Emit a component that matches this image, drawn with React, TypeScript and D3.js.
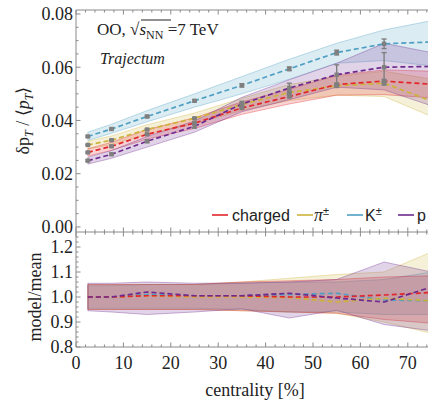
import React from "react";
import * as d3 from "d3";

const centrality = [2.5, 7.5, 15, 25, 35, 45, 55, 65, 75];

// top panel: delta pT / <pT>
const chargedMean = [0.028, 0.0303, 0.0348, 0.039, 0.0447, 0.049, 0.0535, 0.0548, 0.0536];
const chargedLo = [0.0266, 0.0288, 0.033, 0.037, 0.0423, 0.0462, 0.0495, 0.0497, 0.0485];
const chargedHi = [0.0294, 0.0318, 0.0366, 0.041, 0.047, 0.0517, 0.057, 0.059, 0.0585];
const chargedErr = [0.0002, 0.0002, 0.0002, 0.0003, 0.0003, 0.0004, 0.0005, 0.0006, 0.0007];

const pionMean = [0.0308, 0.0326, 0.0366, 0.0408, 0.046, 0.0505, 0.053, 0.054, 0.0473];
const pionLo = [0.0292, 0.031, 0.0348, 0.0388, 0.0437, 0.0475, 0.0495, 0.049, 0.0415];
const pionHi = [0.0322, 0.0342, 0.0384, 0.0428, 0.0483, 0.0535, 0.0565, 0.0585, 0.0555];
const pionErr = [0.0002, 0.0002, 0.0003, 0.0003, 0.0004, 0.0005, 0.0006, 0.0007, 0.0008];

const kaonMean = [0.034, 0.0368, 0.0415, 0.0474, 0.0532, 0.0594, 0.0655, 0.0688, 0.0695];
const kaonLo = [0.0325, 0.0352, 0.0395, 0.045, 0.05, 0.0555, 0.0615, 0.0625, 0.0605];
const kaonHi = [0.0356, 0.0386, 0.0437, 0.05, 0.0565, 0.063, 0.069, 0.074, 0.0775];
const kaonErr = [0.0003, 0.0003, 0.0004, 0.0004, 0.0006, 0.0007, 0.0009, 0.0018, 0.002];

const protonMean = [0.0249, 0.0273, 0.0322, 0.0378, 0.0462, 0.0522, 0.0572, 0.0600, 0.0603];
const protonLo = [0.0236, 0.0258, 0.03, 0.0356, 0.0433, 0.0478, 0.0525, 0.0515, 0.0455];
const protonHi = [0.0262, 0.0287, 0.034, 0.0398, 0.0487, 0.0553, 0.0615, 0.069, 0.0655];
const protonErr = [0.0003, 0.0004, 0.0005, 0.0007, 0.001, 0.0018, 0.0037, 0.0055, 0.006];

// bottom panel: model / mean
const chargedRatio = [1.0, 1.0, 1.005, 1.005, 1.005, 1.0, 1.0, 1.008, 1.018];
const chargedRatioLo = [0.95, 0.95, 0.95, 0.95, 0.945, 0.94, 0.935, 0.91, 0.895];
const chargedRatioHi = [1.05, 1.05, 1.05, 1.05, 1.06, 1.065, 1.07, 1.08, 1.085];
const pionRatio = [1.0, 1.0, 1.005, 1.0, 1.0, 0.998, 0.98, 0.995, 0.985];
const pionRatioLo = [0.95, 0.95, 0.95, 0.95, 0.945, 0.94, 0.935, 0.9, 0.855];
const pionRatioHi = [1.05, 1.05, 1.05, 1.05, 1.06, 1.075, 1.09, 1.1, 1.18];
const kaonRatio = [1.0, 1.0, 1.01, 1.005, 1.005, 1.01, 1.015, 0.988, 0.985];
const kaonRatioLo = [0.955, 0.955, 0.955, 0.955, 0.95, 0.94, 0.94, 0.93, 0.93];
const kaonRatioHi = [1.045, 1.045, 1.05, 1.05, 1.055, 1.06, 1.06, 1.07, 1.1];
const protonRatio = [1.0, 1.0, 1.02, 1.005, 1.005, 1.015, 0.996, 0.98, 1.04];
const protonRatioLo = [0.945, 0.94, 0.93, 0.94, 0.953, 0.916, 0.947, 0.89, 0.865];
const protonRatioHi = [1.055, 1.055, 1.06, 1.055, 1.056, 1.06, 1.07, 1.14, 1.1];

const xTicks = [0, 10, 20, 30, 40, 50, 60, 70];
const topTicks = [0.0, 0.02, 0.04, 0.06, 0.08];
const topTickLabels = ["0.00", "0.02", "0.04", "0.06", "0.08"];
const botTicks = [0.8, 0.9, 1.0, 1.1, 1.2];
const botTickLabels = ["0.8", "0.9", "1.0", "1.1", "1.2"];
const legendLabels = ["charged", "π±", "K±", "p"];

const COLORS = {
  charged: "#e3262b",
  pion: "#cdb23a",
  kaon: "#4f9fc2",
  proton: "#6e2a8e",
};

const series = [
  { key: "kaon", mean: kaonMean, lo: kaonLo, hi: kaonHi, err: kaonErr, r: kaonRatio, rlo: kaonRatioLo, rhi: kaonRatioHi },
  { key: "pion", mean: pionMean, lo: pionLo, hi: pionHi, err: pionErr, r: pionRatio, rlo: pionRatioLo, rhi: pionRatioHi },
  { key: "charged", mean: chargedMean, lo: chargedLo, hi: chargedHi, err: chargedErr, r: chargedRatio, rlo: chargedRatioLo, rhi: chargedRatioHi },
  { key: "proton", mean: protonMean, lo: protonLo, hi: protonHi, err: protonErr, r: protonRatio, rlo: protonRatioLo, rhi: protonRatioHi },
];

const W = 428;
const H = 401;
const X0 = 76;
const TOP_T = 10;
const MID = 232;
const BOT_B = 347;

const SERIF = "'Liberation Serif', 'Times New Roman', serif";
const SANS = "'Liberation Sans', Arial, sans-serif";
const FRAME = "#8a8a8a";

export default function App() {
  const x = d3.scaleLinear().domain([0, 75]).range([X0, X0 + 75 * 4.74]);
  const yT = d3.scaleLinear().domain([-0.0019, 0.0815]).range([MID, TOP_T]);
  const yB = d3.scaleLinear().domain([0.8, 1.26]).range([BOT_B, MID]);

  const areaT = (lo: number[], hi: number[]) =>
    d3
      .area<number>()
      .x((_, i) => x(centrality[i]))
      .y0((_, i) => yT(lo[i]))
      .y1((_, i) => yT(hi[i]))(centrality as any) as string;
  const lineT = (v: number[]) =>
    d3
      .line<number>()
      .x((_, i) => x(centrality[i]))
      .y((_, i) => yT(v[i]))(centrality as any) as string;
  const areaB = (lo: number[], hi: number[]) =>
    d3
      .area<number>()
      .x((_, i) => x(centrality[i]))
      .y0((_, i) => yB(lo[i]))
      .y1((_, i) => yB(hi[i]))(centrality as any) as string;
  const lineB = (v: number[]) =>
    d3
      .line<number>()
      .x((_, i) => x(centrality[i]))
      .y((_, i) => yB(v[i]))(centrality as any) as string;

  const xMinor = d3.range(0, 76, 2);
  const topMinor = d3.range(0, 0.0801, 0.005);
  const botMinor = d3.range(0.8, 1.2501, 0.02);

  const xRight = W + 5;

  return (
    <svg
      width={W}
      height={H}
      style={{ position: "absolute", left: 0, top: 0, background: "#fff" }}
      fontFamily={SERIF}
    >
      <defs>
        <clipPath id="clipTop">
          <rect x={X0} y={TOP_T} width={W - X0} height={MID - TOP_T} />
        </clipPath>
        <clipPath id="clipBot">
          <rect x={X0} y={MID} width={W - X0} height={BOT_B - MID} />
        </clipPath>
      </defs>

      {/* top panel data */}
      <g clipPath="url(#clipTop)">
        {series.map((s) => (
          <path
            key={"ba" + s.key}
            d={areaT(s.lo, s.hi)}
            fill={(COLORS as any)[s.key]}
            fillOpacity={0.2}
            stroke={(COLORS as any)[s.key]}
            strokeOpacity={0.45}
            strokeWidth={0.8}
          />
        ))}
        {series.map((s) => (
          <path
            key={"ln" + s.key}
            d={lineT(s.mean)}
            fill="none"
            stroke={(COLORS as any)[s.key]}
            strokeWidth={1.7}
            strokeDasharray="5,3"
          />
        ))}
        {series.map((s) =>
          centrality.map((c, i) => {
            const cx = x(c);
            const y1 = yT(s.mean[i] + s.err[i]);
            const y2 = yT(s.mean[i] - s.err[i]);
            return (
              <g key={"e" + s.key + i} stroke="#7f7f7f" strokeWidth={1.4}>
                <line x1={cx} x2={cx} y1={y1} y2={y2} />
                <line x1={cx - 2.5} x2={cx + 2.5} y1={y1} y2={y1} />
                <line x1={cx - 2.5} x2={cx + 2.5} y1={y2} y2={y2} />
                <rect
                  x={cx - 2.2}
                  y={yT(s.mean[i]) - 2.2}
                  width={4.4}
                  height={4.4}
                  fill="#7f7f7f"
                  stroke="none"
                />
              </g>
            );
          })
        )}
      </g>

      {/* bottom panel data */}
      <g clipPath="url(#clipBot)">
        {series.map((s) => (
          <path
            key={"bb" + s.key}
            d={areaB(s.rlo, s.rhi)}
            fill={(COLORS as any)[s.key]}
            fillOpacity={0.2}
            stroke={(COLORS as any)[s.key]}
            strokeOpacity={0.45}
            strokeWidth={0.8}
          />
        ))}
        {series.map((s) => (
          <path
            key={"lb" + s.key}
            d={lineB(s.r)}
            fill="none"
            stroke={(COLORS as any)[s.key]}
            strokeWidth={1.7}
            strokeDasharray="5,3"
          />
        ))}
      </g>

      {/* frames */}
      <g stroke={FRAME} strokeWidth={1} fill="none">
        <line x1={X0} x2={xRight} y1={TOP_T} y2={TOP_T} />
        <line x1={X0} x2={X0} y1={TOP_T} y2={BOT_B} />
        <line x1={X0} x2={xRight} y1={MID} y2={MID} />
        <line x1={X0} x2={xRight} y1={BOT_B} y2={BOT_B} />
      </g>

      {/* x ticks */}
      <g stroke={FRAME} strokeWidth={1}>
        {xMinor.map((t) => {
          const major = t % 10 === 0;
          const L = major ? 4.5 : 2.5;
          const px = x(t);
          return (
            <g key={"xt" + t}>
              <line x1={px} x2={px} y1={TOP_T} y2={TOP_T + L} />
              <line x1={px} x2={px} y1={MID - L} y2={MID + L} />
              <line x1={px} x2={px} y1={BOT_B} y2={BOT_B - L} />
            </g>
          );
        })}
        {topMinor.map((t, i) => {
          const major = i % 4 === 0;
          const L = major ? 4.5 : 2.5;
          return <line key={"yt" + i} x1={X0} x2={X0 + L} y1={yT(t)} y2={yT(t)} />;
        })}
        {botMinor.map((t, i) => {
          const major = i % 5 === 0;
          const L = major ? 4.5 : 2.5;
          return <line key={"yb" + i} x1={X0} x2={X0 + L} y1={yB(t)} y2={yB(t)} />;
        })}
      </g>

      {/* tick labels */}
      <g fontSize={18} fill="#222">
        {topTicks.map((t, i) => (
          <text key={"tl" + i} x={X0 - 3} y={yT(t)} dy="0.35em" textAnchor="end">
            {topTickLabels[i]}
          </text>
        ))}
        {botTicks.map((t, i) => (
          <text key={"bl" + i} x={X0 - 3} y={yB(t)} dy="0.35em" textAnchor="end">
            {botTickLabels[i]}
          </text>
        ))}
        {xTicks.map((t) => (
          <text key={"xl" + t} x={x(t)} y={BOT_B + 22} textAnchor="middle">
            {t}
          </text>
        ))}
      </g>

      {/* axis titles */}
      <text x={255} y={396} fontSize={18} textAnchor="middle" fill="#222">
        centrality [%]
      </text>
      <text
        transform={`translate(29,${yT(0.04)}) rotate(-90)`}
        fontSize={18}
        textAnchor="middle"
        fill="#222"
      >
        δp
        <tspan fontSize={12} dy="4" fontStyle="italic">T</tspan>
        <tspan dy="-4"> / ⟨</tspan>
        <tspan fontStyle="italic">p</tspan>
        <tspan fontSize={12} dy="4" fontStyle="italic">T</tspan>
        <tspan dy="-4">⟩</tspan>
      </text>
      <text
        transform={`translate(41,${yB(1.0)}) rotate(-90)`}
        fontSize={18}
        textAnchor="middle"
        fill="#222"
      >
        model/mean
      </text>

      {/* annotation */}
      <text x={97} y={35} fontSize={17} fill="#222">
        OO,{" "}
        <tspan>√</tspan>
        <tspan fontStyle="italic">s</tspan>
        <tspan fontSize={12} dy="4">NN</tspan>
        <tspan dy="-4"> =7 TeV</tspan>
      </text>
      <line x1={141} x2={171} y1={20} y2={20} stroke="#222" strokeWidth={1} />
      <text x={100} y={64} fontSize={16} fontStyle="italic" fill="#222">
        Trajectum
      </text>

      {/* legend */}
      <g fontFamily={SANS} fontSize={16} fill="#222">
        {[
          { k: "charged", lx: 212, tx: 232 },
          { k: "pion", lx: 297, tx: 314 },
          { k: "kaon", lx: 347, tx: 365 },
          { k: "proton", lx: 398, tx: 417 },
        ].map((d, i) => (
          <g key={"lg" + i}>
            <line
              x1={d.lx}
              x2={d.lx + 16}
              y1={215}
              y2={215}
              stroke={(COLORS as any)[d.k]}
              strokeWidth={1.6}
            />
            <text x={d.tx} y={221}>
              {i === 1 ? (
                <>
                  <tspan fontFamily={SERIF} fontStyle="italic" fontSize={18}>π</tspan>
                  <tspan fontSize={11} dy="-6">±</tspan>
                </>
              ) : i === 2 ? (
                <>
                  K<tspan fontSize={11} dy="-6">±</tspan>
                </>
              ) : (
                legendLabels[i]
              )}
            </text>
          </g>
        ))}
      </g>
    </svg>
  );
}
